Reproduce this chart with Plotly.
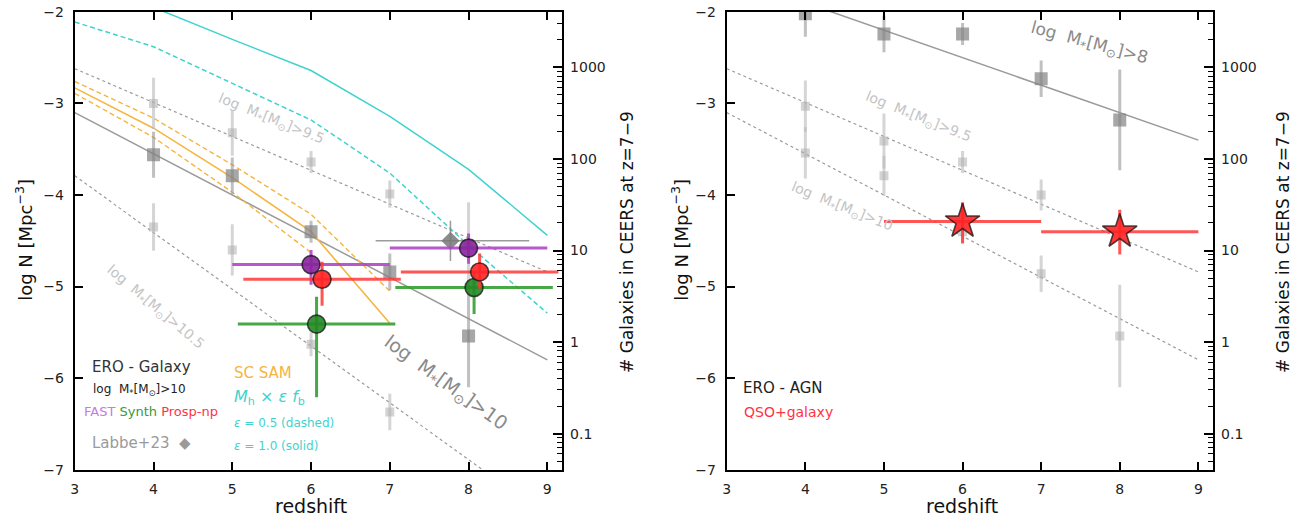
import plotly.graph_objects as go

# ---------------- data ----------------
# stellar-mass-function number densities, log N [Mpc^-3], at integer redshifts
z_mf = [4, 5, 6, 7, 8]
# left panel
mf95_L = [-3.00, -3.32, -3.64, -3.99, -4.55]
mf95_L_err = [0.28, 0.25, 0.12, 0.15, 0.47]
mf10_L = [-3.56, -3.79, -4.40, -4.84, -5.54]
mf10_L_err = [0.25, 0.20, 0.12, 0.20, 0.56]
mf105_L = [-4.35, -4.60, -5.63, -6.37, None]
mf105_L_err = [0.26, 0.28, 0.13, 0.20, None]
# right panel
mf8_R = [-2.02, -2.24, -2.24, -2.73, -3.18]
mf8_R_err = [0.25, 0.20, 0.12, 0.20, 0.55]
mf95_R = [-3.03, -3.41, -3.64, -4.00, None]
mf95_R_err = [0.28, 0.30, 0.12, 0.17, None]
mf10_R = [-3.54, -3.79, -4.40, -4.86, -5.54]
mf10_R_err = [0.28, 0.22, 0.12, 0.20, 0.56]

# straight-line trends (values at z = 3 and z = 9)
z_trend = [3, 9]
trend95 = [-2.62, -4.84]
trend10 = [-3.10, -5.80]
trend105 = [-3.79, -7.51]
trend8 = [-1.60, -3.40]

# halo-mass upper bound  M_h x eps x f_b
z_halo = [3, 4, 5, 6, 7, 8, 9]
halo_eps10 = [-1.60, -1.95, -2.30, -2.64, -3.14, -3.72, -4.44]
halo_eps05 = [-2.11, -2.38, -2.78, -3.18, -3.76, -4.55, -5.29]

# Santa Cruz semi-analytic model
z_sam = [3, 4, 5, 6, 7]
sam_mid = [-2.83, -3.27, -3.81, -4.40, -5.40]
sam_hi = [-2.76, -3.16, -3.67, -4.21, -5.05]
z_sam_lo = [3, 4, 5, 6]
sam_lo = [-2.89, -3.37, -3.97, -4.63]

# ERO galaxy densities (log M* > 10), bins z = 5-7 and 7-9
z_fast = [6.0, 8.0]
n_fast = [-4.76, -4.58]
n_fast_up = [0.16, 0.16]
n_fast_dn = [0.22, 0.17]
z_synth = [6.07, 8.07]
n_synth = [-5.41, -5.01]
n_synth_up = [0.30, 0.17]
n_synth_dn = [0.80, 0.29]
z_prosp = [6.14, 8.14]
n_prosp = [-4.92, -4.84]
n_prosp_up = [0.19, 0.20]
n_prosp_dn = [0.29, 0.18]
bin_half = [1.0, 1.0]

# Labbe+23
z_labbe = [7.77]
n_labbe = [-4.50]
labbe_zlo = [0.95]
labbe_zhi = [1.00]
labbe_err = [0.22]

# ERO AGN (QSO+galaxy)
z_agn = [6, 8]
n_agn = [-4.29, -4.40]
n_agn_up = [0.21, 0.24]
n_agn_dn = [0.24, 0.25]

# count-axis ticks
count_ticks = [0.1, 1, 10, 100, 1000]
count_labels = ["0.1", "1", "10", "100", "1000"]
count_minor = [k * 10.0 ** e for e in range(-2, 4) for k in range(2, 10)]
logn_ticks = [-2, -3, -4, -5, -6, -7]
z_ticks = [3, 4, 5, 6, 7, 8, 9]

# ---------------- styling ----------------
FONT = "DejaVu Sans"
GRAY_LINE = "#9a9a9a"
LIGHT_SQ = "rgba(175,175,175,0.55)"
DARK_SQ = "rgba(130,130,130,0.7)"
LIGHT_ERR = "rgba(185,185,185,0.6)"
DARK_ERR = "rgba(150,150,150,0.6)"
CYAN = "#3fd3cf"
ORANGE = "#f5b540"
PURPLE_L = "rgba(175,70,200,0.9)"
PURPLE_M = "rgba(135,35,155,0.9)"
GREEN_L = "rgba(50,160,50,0.9)"
GREEN_M = "rgba(35,135,35,0.9)"
RED_L = "rgba(255,55,55,0.85)"
RED_M = "rgba(255,35,35,0.9)"

W, H = 1305, 523
# page placement of the figure: small offsets / vertical squeeze of the page view
X_SHIFT = 2
Y_TOP = 8
Y_SCALE = 0.97


def px(t):
    """page x (pixels) -> paper fraction"""
    return (t - X_SHIFT) / W


def py(t):
    """page y (pixels, from top) -> paper fraction"""
    return 1 - ((t - Y_TOP) / Y_SCALE) / H


L_X = [px(73), px(562)]
R_X = [px(727), px(1215)]
Y_DOM = [py(470), 1 - 4 / H]
Y_RANGE = [-7.0005, -1.9995]

fig = go.Figure()


def line(x, y, xa, ya, color, width, dash="solid"):
    fig.add_trace(go.Scatter(x=x, y=y, xaxis=xa, yaxis=ya, mode="lines",
                             line=dict(color=color, width=width, dash=dash),
                             hoverinfo="skip", showlegend=False))


def squares(y, err, xa, ya, dark):
    fig.add_trace(go.Scatter(
        x=z_mf, y=y, xaxis=xa, yaxis=ya, mode="markers",
        marker=dict(symbol="square", size=13 if dark else 9,
                    color=DARK_SQ if dark else LIGHT_SQ, line=dict(width=0)),
        error_y=dict(type="data", array=err, color=DARK_ERR if dark else LIGHT_ERR,
                     thickness=3, width=0),
        hoverinfo="skip", showlegend=False))


def points(x, y, up, dn, xa, ya, lcol, mcol, symbol="circle", size=18):
    fig.add_trace(go.Scatter(
        x=x, y=y, xaxis=xa, yaxis=ya, mode="markers",
        marker=dict(symbol=symbol, size=size, color=mcol,
                    line=dict(color="rgba(20,20,20,0.75)", width=1.6)),
        error_x=dict(type="data", array=bin_half, color=lcol, thickness=3, width=0),
        error_y=dict(type="data", array=up, arrayminus=dn, color=lcol, thickness=3, width=0),
        hoverinfo="skip", showlegend=False))


# ---- left panel: galaxies ----
line(z_trend, trend95, "x", "y", GRAY_LINE, 1.2, "dot")
line(z_trend, trend10, "x", "y", GRAY_LINE, 1.5)
line(z_trend, trend105, "x", "y", GRAY_LINE, 1.2, "dot")
line(z_halo, halo_eps10, "x", "y", CYAN, 1.5)
line(z_halo, halo_eps05, "x", "y", CYAN, 1.5, "5px,3px")
line(z_sam, sam_mid, "x", "y", ORANGE, 1.6)
line(z_sam, sam_hi, "x", "y", ORANGE, 1.4, "5px,3px")
line(z_sam_lo, sam_lo, "x", "y", ORANGE, 1.4, "5px,3px")
squares(mf95_L, mf95_L_err, "x", "y", False)
squares(mf105_L, mf105_L_err, "x", "y", False)
squares(mf10_L, mf10_L_err, "x", "y", True)

fig.add_trace(go.Scatter(
    x=z_labbe, y=n_labbe, xaxis="x", yaxis="y", mode="markers",
    marker=dict(symbol="diamond", size=14, color="rgba(120,120,120,0.85)", line=dict(width=0)),
    error_x=dict(type="data", array=labbe_zhi, arrayminus=labbe_zlo,
                 color="rgba(130,130,130,0.8)", thickness=1.5, width=0),
    error_y=dict(type="data", array=labbe_err, color="rgba(130,130,130,0.8)",
                 thickness=1.5, width=0),
    hoverinfo="skip", showlegend=False))

points(z_fast, n_fast, n_fast_up, n_fast_dn, "x", "y", PURPLE_L, PURPLE_M)
points(z_synth, n_synth, n_synth_up, n_synth_dn, "x", "y", GREEN_L, GREEN_M)
points(z_prosp, n_prosp, n_prosp_up, n_prosp_dn, "x", "y", RED_L, RED_M)

# ---- right panel: AGN ----
line(z_trend, trend8, "x2", "y3", GRAY_LINE, 1.5)
line(z_trend, trend95, "x2", "y3", GRAY_LINE, 1.2, "dot")
line(z_trend, trend10, "x2", "y3", GRAY_LINE, 1.2, "dot")
squares(mf95_R, mf95_R_err, "x2", "y3", False)
squares(mf10_R, mf10_R_err, "x2", "y3", False)
squares(mf8_R, mf8_R_err, "x2", "y3", True)
points(z_agn, n_agn, n_agn_up, n_agn_dn, "x2", "y3", RED_L, RED_M, symbol="star", size=26)

# count axes (secondary, log)
fig.add_trace(go.Scatter(x=[], y=[], xaxis="x", yaxis="y2", showlegend=False))
fig.add_trace(go.Scatter(x=[], y=[], xaxis="x2", yaxis="y4", showlegend=False))

TICKFONT = dict(family=FONT, size=14, color="#222")


def xax(domain, anchor):
    return dict(domain=domain, anchor=anchor, range=[3, 9.19], tickvals=z_ticks,
                ticktext=[str(v) for v in z_ticks], ticks="inside", ticklen=8,
                tickwidth=2, tickcolor="black", showline=True, linecolor="black",
                linewidth=2, mirror="ticks", showgrid=False, zeroline=False,
                tickfont=TICKFONT, ticklabelstandoff=5)


def yax(anchor):
    return dict(domain=Y_DOM, anchor=anchor, range=Y_RANGE, tickvals=logn_ticks,
                ticktext=["\u2212" + str(-v) for v in logn_ticks], ticks="inside",
                ticklen=8, tickwidth=2, tickcolor="black", showline=True,
                linecolor="black", linewidth=2, mirror=False, showgrid=False,
                zeroline=False, tickfont=TICKFONT, ticklabelstandoff=6,
                ticklabeloverflow="allow")


def cax(overlay, anchor):
    return dict(overlaying=overlay, anchor=anchor, side="right", type="log",
                range=[-1.394, 3.606], tickvals=count_ticks, ticktext=count_labels,
                ticks="inside", ticklen=9, tickwidth=2, tickcolor="black",
                minor=dict(tickvals=count_minor, ticks="inside", ticklen=5,
                           tickwidth=1.2, tickcolor="black"),
                showline=True, linecolor="black", linewidth=2, showgrid=False,
                zeroline=False, tickfont=TICKFONT, ticklabelstandoff=3)


fig.update_layout(
    width=W, height=H, margin=dict(l=0, r=0, t=0, b=0),
    paper_bgcolor="white", plot_bgcolor="white",
    xaxis=xax(L_X, "y"), yaxis=yax("x"), yaxis2=cax("y", "x"),
    xaxis2=xax(R_X, "y3"), yaxis3=yax("x2"), yaxis4=cax("y3", "x2"),
    showlegend=False,
)

ann = []


def text(x, y, s, size, color, xref="paper", yref="paper", angle=0, xanchor="center"):
    ann.append(dict(x=x, y=y, xref=xref, yref=yref, text=s, showarrow=False,
                    textangle=angle, xanchor=xanchor, yanchor="middle",
                    font=dict(family=FONT, size=size, color=color)))


MSTAR = "log  M<sub>*</sub>[M<sub>\u2299</sub>]>"

# axis titles
for xc in (310, 963):
    text(px(xc), py(506), "redshift", 19, "#111")
for xc in (22, 680):
    text(px(xc), py(240), "log N [Mpc<sup>\u22123</sup>]", 18, "#111", angle=-90)
for xc in (627, 1285):
    text(px(xc), py(242), "# Galaxies in CEERS at z=7\u22129", 17, "#111", angle=-90)

# trend labels, left
text(5.49, -3.17, MSTAR + "9.5", 14, "#c4c4c4", "x", "y", 22)
text(4.02, -5.22, MSTAR + "10.5", 14, "#c4c4c4", "x", "y", 40)
text(7.71, -6.06, MSTAR + "10", 19, "#8a8a8a", "x", "y", 36)
# trend labels, right
text(7.61, -2.35, MSTAR + "8", 17, "#8a8a8a", "x2", "y3", 15)
text(5.43, -3.15, MSTAR + "9.5", 14, "#c4c4c4", "x2", "y3", 22)
text(4.47, -4.13, MSTAR + "10", 14, "#c4c4c4", "x2", "y3", 22)

# in-panel key, left
text(px(88), py(367), "ERO - Galaxy", 15, "#333", xanchor="left")
text(px(89), py(390), "log  M<sub>*</sub>[M<sub>\u2299</sub>]>10", 12, "#222", xanchor="left")
text(px(80), py(412),
     "<span style='color:#c77ae6'>FAST</span> <span style='color:#3a9a3a'>Synth</span> "
     "<span style='color:#ff3344'>Prosp-np</span>", 13, "#333", xanchor="left")
text(px(88), py(443), "Labbe+23  \u25c6", 15, "#9a9a9a", xanchor="left")
text(px(231), py(373), "SC SAM", 15, ORANGE, xanchor="left")
text(px(231), py(398), "<i>M</i><sub>h</sub> \u00d7 <i>\u03b5 f</i><sub>b</sub>", 16, CYAN, xanchor="left")
text(px(231), py(423), "<i>\u03b5</i> = 0.5 (dashed)", 12, CYAN, xanchor="left")
text(px(231), py(446), "<i>\u03b5</i> = 1.0 (solid)", 12, CYAN, xanchor="left")

# in-panel key, right
text(px(741), py(388), "ERO - AGN", 15, "#222", xanchor="left")
text(px(742), py(412), "QSO+galaxy", 14, "#ff3344", xanchor="left")

fig.update_layout(annotations=ann)
fig.write_html("out.html")
